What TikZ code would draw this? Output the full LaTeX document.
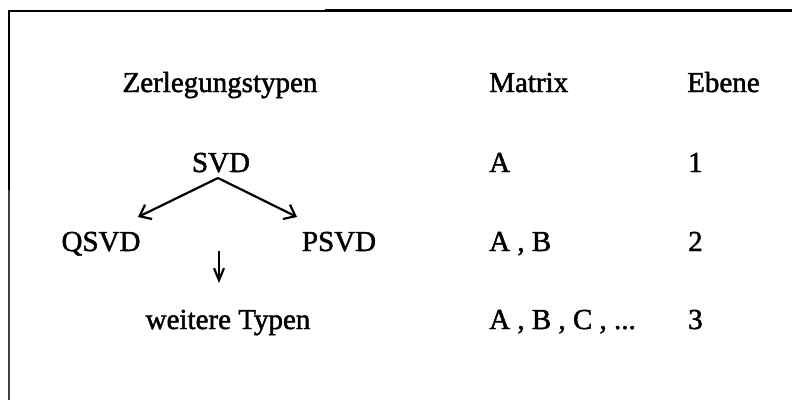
\documentclass[tikz,border=0pt]{standalone}
\usepackage{fontspec}
\setmainfont{Liberation Serif}[FakeBold=1.6]
\usetikzlibrary{arrows.meta}
\begin{document}
\begin{tikzpicture}[x=1pt,y=-1pt,
  txt/.style={font=\fontsize{29}{32}\selectfont, inner sep=0pt},
  lbl/.style={txt, anchor=base},
  col/.style={txt, anchor=base west},
  arr/.style={line width=2.2pt, -{Straight Barb[length=10pt,width=16pt,line width=2.2pt]}},
  darr/.style={line width=2.2pt, -{Straight Barb[length=12pt,width=10pt,line width=2.2pt]}},
  frame/.style={line cap=rect}]
  \useasboundingbox (0,0) rectangle (792,400);
  % open frame: top and left edges
  \draw[frame, line width=1.5pt] (9,11) -- (326,11);
  \draw[frame, line width=2.8pt] (326,10.5) -- (792,10.5);
  \draw[frame, line width=2.4pt] (9,11) -- (9,190);
  \draw[line width=1.5pt, black!75] (9,190) -- (9,400);

  % column headings
  \node[lbl] (hZ) at (220,92) {Zerlegungstypen};
  \node[col] (hM) at (489,92) {Matrix};
  \node[col] (hE) at (687,92) {Ebene};

  % decomposition tree
  \node[lbl] (svd)  at (221,172) {SVD};
  \node[lbl] (qsvd) at (101,251) {QSVD};
  \node[lbl] (psvd) at (339,251) {PSVD};
  \node[lbl] (more) at (228,329) {weitere Typen};

  \coordinate (fork) at (218,178);
  \coordinate (tipQ) at (138,217);
  \coordinate (tipP) at (297,217);
  \coordinate (dtop) at (219,251);
  \coordinate (dtip) at (219,283);
  \draw[arr] (fork) -- (tipQ);
  \draw[arr] (fork) -- (tipP);
  \draw[darr] (dtop) -- (dtip);

  % matrices
  \node[col] (m1) at (489,172) {A};
  \node[col] (m2) at (489,251) {A , B};
  \node[col] (m3) at (489,329) {A , B , C , ...};

  % levels
  \node[col] (e1) at (688,172) {1};
  \node[col] (e2) at (688,251) {2};
  \node[col] (e3) at (688,329) {3};
\end{tikzpicture}
\end{document}
